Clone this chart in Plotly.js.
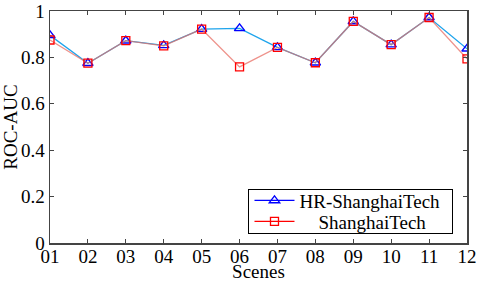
<!DOCTYPE html>
<html><head><meta charset="utf-8">
<script src="https://cdn.plot.ly/plotly-3.0.1.min.js"></script>
<style>html,body{margin:0;padding:0;background:#fff}#c{width:480px;height:282px}</style>
</head><body><div id="c"></div>
<script>
const scenes = ['01','02','03','04','05','06','07','08','09','10','11','12'];
const hrShanghaiTech = [0.895,0.775,0.872,0.852,0.922,0.925,0.843,0.777,0.955,0.855,0.972,0.837];
const shanghaiTech   = [0.875,0.775,0.872,0.850,0.922,0.759,0.843,0.777,0.955,0.855,0.972,0.794];
const yTicks = [0,0.2,0.4,0.6,0.8,1];
const yTickText = ['0','0.2','0.4','0.6','0.8','1'];
const xIdx = scenes.map((s,i)=>i);

const font = {family:"'Liberation Serif', 'DejaVu Serif', serif", size:19, color:'#000'};
const legFont = {family:"'Liberation Serif', 'DejaVu Serif', serif", size:19, color:'#000'};
const traces = [
  {x:xIdx, y:hrShanghaiTech, mode:'lines+markers', showlegend:false,
   line:{color:'#1ea4ec', width:1.3},
   marker:{symbol:'triangle-up-open', size:9, color:'#0000ff', line:{width:1.4, color:'#0000ff'}}},
  {x:xIdx, y:shanghaiTech, mode:'lines+markers', showlegend:false,
   line:{color:'rgba(232,110,100,0.75)', width:1.3},
   marker:{symbol:'square-open', size:8, color:'#ff0000', line:{width:1.3, color:'#ff0000'}}},
  {x:[null], y:[null], mode:'lines+markers', name:'HR-ShanghaiTech',
   line:{color:'#0000ff', width:1.3},
   marker:{symbol:'triangle-up-open', size:9, color:'#0000ff', line:{width:1.4}}},
  {x:[null], y:[null], mode:'lines+markers', name:'\u00a0\u00a0\u00a0\u00a0ShanghaiTech',
   line:{color:'#ff0000', width:1.3},
   marker:{symbol:'square-open', size:8, color:'#ff0000', line:{width:1.3}}}
];
const layout = {
  width:480, height:282,
  margin:{l:50, r:13, t:11, b:39},
  paper_bgcolor:'#fff', plot_bgcolor:'#fff',
  font:font,
  showlegend:true,
  legend:{x:0.476, y:0.233, xanchor:'left', yanchor:'top', bgcolor:'#fff',
    bordercolor:'#000', borderwidth:1, font:legFont, tracegroupgap:0, itemwidth:40,
    valign:'middle'},
  xaxis:{range:[0,11], tickvals:xIdx, ticktext:scenes, ticks:'inside', ticklen:4,
    tickcolor:'#444', linecolor:'#444', linewidth:1.5, mirror:'ticks', showgrid:false,
    zeroline:false, tickfont:font, ticklabelstandoff:-4,
    title:{text:'Scenes', font:font, standoff:0}},
  yaxis:{range:[0,1], tickvals:yTicks, ticktext:yTickText, ticks:'inside', ticklen:4,
    tickcolor:'#444', linecolor:'#444', linewidth:1.5, mirror:'ticks', showgrid:false,
    zeroline:false, tickfont:font,
    title:{text:'ROC-AUC', font:font, standoff:2}}
};
Plotly.newPlot('c', traces, layout, {staticPlot:true, displayModeBar:false}).then(gd=>{
  // tighten legend row spacing to match the reference's compact box
  const leg = gd.querySelector('.legend');
  if(!leg) return;
  const bg = leg.querySelector('.bg');
  const items = leg.querySelectorAll('.traces');
  const rowH = 21, pad = 1;
  items.forEach((t,i)=>{
    t.setAttribute('transform', 'translate(1,' + (pad + rowH*(i+0.5)) + ')');
  });
  bg.setAttribute('height', String(rowH*items.length + 2*pad));
  const w = parseFloat(bg.getAttribute('width'));
  bg.setAttribute('width', String(w + 7));
});
</script></body></html>
